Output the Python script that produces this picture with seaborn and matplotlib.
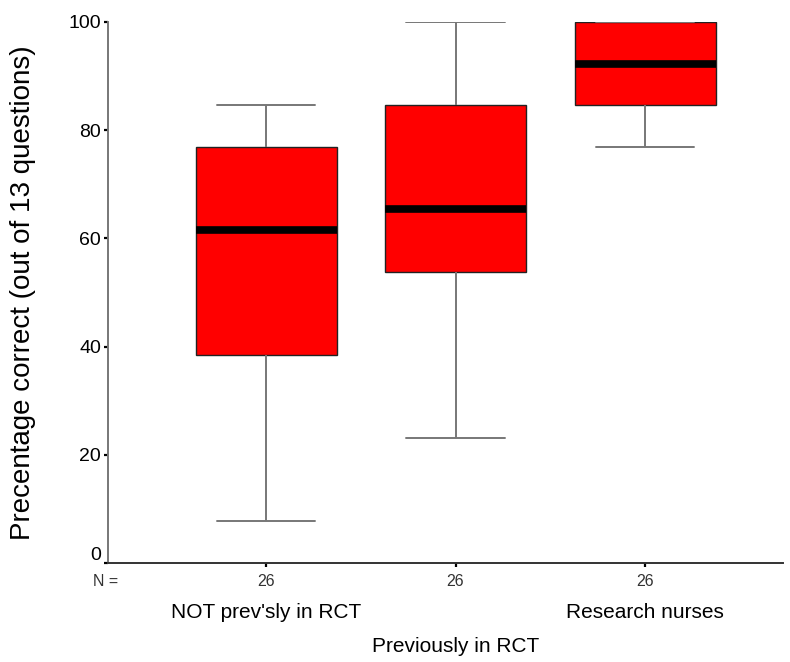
import pandas as pd
import matplotlib.pyplot as plt
import matplotlib.transforms as mtransforms
import seaborn as sns

groups = ["NOT prev'sly in RCT", "Previously in RCT", "Research nurses"]

# questions answered correctly (out of 13), 26 respondents per group
not_prev = [1, 2, 3, 4, 4, 5, 5, 5, 6, 6, 7, 7, 8, 8, 9, 9, 9, 10, 10, 10, 10, 11, 11, 11, 11, 11]
prev = [3, 4, 5, 6, 6, 7, 7, 7, 7, 8, 8, 8, 8, 9, 9, 10, 10, 10, 11, 11, 12, 12, 12, 13, 13, 13]
nurses = [10, 10, 11, 11, 11, 11, 11, 11, 12, 12, 12, 12, 12, 12, 12, 12, 12, 12, 13, 13, 13, 13, 13, 13, 13, 13]

yticks = [0, 20, 40, 60, 80, 100]

rows = []
for name, scores in zip(groups, [not_prev, prev, nurses]):
    for s in scores:
        rows.append({'group': name, 'pct': s / 13 * 100})
df = pd.DataFrame(rows)

sns.set_style('ticks')
plt.rcParams['font.family'] = ['Liberation Sans', 'DejaVu Sans']
plt.rcParams['text.color'] = 'black'
plt.rcParams['axes.labelcolor'] = 'black'
plt.rcParams['ytick.labelcolor'] = 'black'

fig = plt.figure(figsize=(7.9, 6.62), dpi=100)
ax = fig.add_axes([108 / 790, 1 - 563 / 662, 675 / 790, 541 / 662])

box_w = 0.744
sns.boxplot(data=df, x='group', y='pct', order=groups, ax=ax,
            color='#ff0000', saturation=1, width=box_w, showfliers=False,
            linecolor='#222222', linewidth=1,
            medianprops=dict(color='black', linewidth=5.5),
            whiskerprops=dict(color='#777777', linewidth=1.4),
            capprops=dict(color='#777777', linewidth=1.4))

# SPSS-style caps: 70% of the box width
for line in ax.lines:
    xd = list(line.get_xdata())
    yd = list(line.get_ydata())
    if len(xd) == 2 and yd[0] == yd[1] and line.get_color() == '#777777':
        c = (xd[0] + xd[1]) / 2
        line.set_xdata([c - 0.35 * box_w, c + 0.35 * box_w])

ax.set_xlim(-0.834, 2.728)
ax.set_ylim(0, 100)
ax.set_yticks(yticks)
ax.set_yticklabels([str(v) for v in yticks], fontsize=14, color='black')
ax.tick_params(axis='y', length=3, width=1.6, color='black', pad=2)

counts = [len(v) for v in [not_prev, prev, nurses]]
ax.set_xticks(range(len(groups)))
ax.set_xticklabels([str(n) for n in counts], fontsize=11.5, color='#333333',
                   family=['Liberation Sans Narrow', 'Liberation Sans'])
ax.tick_params(axis='x', length=3, width=1.6, color='black', pad=5)

sns.despine(ax=ax)
ax.spines['left'].set_color('#777777')
ax.spines['left'].set_linewidth(1.4)
ax.spines['bottom'].set_color('#333333')
ax.spines['bottom'].set_linewidth(1.4)

ax.set_xlabel('')
ax.set_ylabel('Precentage correct (out of 13 questions)', fontsize=20, color='black')
ax.yaxis.set_label_coords(-0.106, 0.5)

# group labels, staggered like the SPSS output
trans = mtransforms.blended_transform_factory(ax.transData, ax.transAxes)
for i, name in enumerate(groups):
    ypos = -0.0906 if i % 2 == 0 else -0.155
    ax.text(i, ypos, name, transform=trans, ha='center', va='center',
            fontsize=15, color='black')

ax.text(-0.003, -0.035, 'N =', transform=ax.transAxes, ha='center', va='center',
        fontsize=11.5, color='#333333', family=['Liberation Sans Narrow', 'Liberation Sans'])

# the zero label sits a little above its tick in the original
zero = ax.get_yticklabels()[0]
zero.set_transform(zero.get_transform() + mtransforms.ScaledTranslation(0, 10 / 100, fig.dpi_scale_trans))

fig.savefig('out.png', dpi=100)
